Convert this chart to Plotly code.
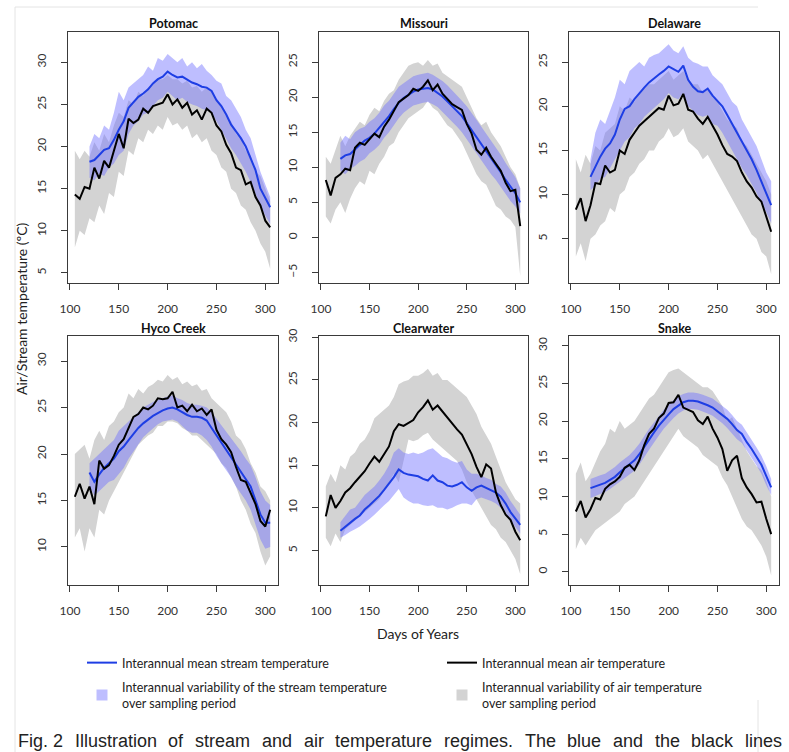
import plotly.graph_objects as go

# ---------------- data ----------------
AIR_DAYS = list(range(105, 306, 5))      # 41 days
STREAM_DAYS = list(range(120, 306, 5))   # 38 days
X_TICKS = [100, 150, 200, 250, 300]
PANEL_NAMES = ["Potomac", "Missouri", "Delaware", "Hyco Creek", "Clearwater", "Snake"]

POTOMAC_AIR = [14.3, 13.8, 15.2, 15.0, 17.5, 16.2, 18.3, 17.5, 19.5, 21.5,
               19.8, 23.3, 22.8, 23.2, 24.5, 24.0, 24.8, 25.0, 25.2, 26.2,
               25.0, 25.6, 24.6, 25.2, 23.8, 24.3, 23.2, 24.5, 24.0, 22.5,
               21.8, 20.2, 19.2, 17.5, 17.2, 15.5, 15.8, 14.0, 13.0, 11.2,
               10.4]
POTOMAC_AIR_HI = [19.5, 18.5, 19.5, 18.8, 20.5, 19.5, 21.5, 20.5, 22.5, 24.0,
                  23.5, 25.5, 25.0, 26.5, 26.0, 27.0, 27.5, 28.0, 28.0, 28.5,
                  28.0, 28.0, 27.5, 27.8, 27.0, 27.2, 26.5, 27.0, 26.5, 25.5,
                  25.0, 23.5, 23.0, 21.5, 21.0, 19.5, 19.0, 17.0, 16.5, 15.0,
                  13.5]
POTOMAC_AIR_LO = [8.0, 10.0, 9.5, 11.5, 11.0, 13.0, 12.0, 14.5, 14.0, 17.0,
                  16.5, 19.5, 19.0, 21.0, 20.5, 22.0, 21.5, 22.5, 22.0, 23.5,
                  22.5, 22.8, 22.0, 22.5, 21.0, 21.5, 20.5, 21.0, 19.5, 19.0,
                  17.5, 17.0, 15.0, 14.5, 13.0, 12.5, 11.0, 10.0, 8.5, 7.5,
                  5.5]
POTOMAC_STREAM = [18.2, 18.4, 19.0, 19.6, 19.8, 20.8, 22.0, 23.0, 24.6, 25.2,
                  25.9, 26.3, 26.8, 27.5, 28.0, 28.3, 28.9, 28.5, 28.2, 28.3,
                  28.0, 27.6, 27.4, 27.1, 27.0, 26.6, 25.5, 24.8, 23.8, 22.6,
                  21.8, 21.0, 20.0, 18.6, 17.2, 15.0, 13.8, 12.8]
POTOMAC_STREAM_HI = [20.0, 21.5, 21.0, 22.5, 22.0, 24.0, 26.5, 25.5, 27.0, 27.5,
                     28.0, 28.5, 29.5, 29.0, 30.5, 30.2, 31.0, 30.5, 30.0, 30.5,
                     29.5, 30.0, 29.3, 29.8, 29.0, 28.5, 27.8, 27.5, 26.0, 25.5,
                     24.5, 23.5, 22.0, 21.0, 19.0, 17.0, 15.5, 14.0]
POTOMAC_STREAM_LO = [16.3, 16.0, 16.8, 16.5, 17.5, 18.0, 19.0, 19.5, 21.5, 22.5,
                     23.0, 23.8, 24.0, 24.8, 25.5, 25.8, 26.5, 26.0, 25.5, 25.8,
                     25.3, 25.0, 24.8, 24.5, 24.3, 24.0, 23.0, 22.0, 21.0, 19.8,
                     19.0, 18.0, 17.0, 15.8, 14.5, 13.0, 11.8, 10.8]

MISSOURI_AIR = [8.2, 6.0, 8.5, 9.0, 9.8, 9.6, 12.8, 13.5, 13.2, 14.0,
                14.8, 14.3, 15.8, 16.8, 18.0, 19.3, 19.8, 20.3, 21.2, 20.9,
                21.5, 22.4, 21.0, 21.8, 20.5, 19.8, 19.0, 18.6, 18.2, 16.2,
                14.8, 12.5, 11.8, 12.8, 11.5, 10.5, 9.5, 7.8, 6.6, 6.8,
                1.6]
MISSOURI_AIR_HI = [11.5, 10.5, 12.5, 14.5, 13.0, 14.5, 15.5, 16.5, 16.0, 17.5,
                   18.5, 18.0, 19.5, 20.5, 21.0, 22.5, 23.5, 24.5, 24.8, 25.0,
                   24.5, 25.3, 24.5, 24.8, 23.5, 23.0, 22.5, 22.0, 21.5, 20.0,
                   18.5, 17.0, 16.0, 16.5, 15.0, 14.0, 13.0, 11.5, 10.0, 9.0,
                   7.0]
MISSOURI_AIR_LO = [3.0, 2.0, 4.0, 5.0, 3.5, 5.5, 7.0, 8.0, 7.5, 9.5,
                   9.0, 10.5, 11.5, 13.0, 13.5, 15.0, 16.0, 17.0, 17.5, 18.0,
                   18.5, 19.5, 18.5, 18.0, 17.0, 16.0, 15.5, 14.5, 13.5, 12.0,
                   10.5, 9.0, 8.0, 7.5, 6.0, 4.5, 4.0, 3.0, 2.5, 1.5,
                   -5.5]
MISSOURI_STREAM = [11.2, 11.7, 11.9, 12.6, 13.2, 13.8, 14.2, 14.8, 15.6, 16.4,
                   17.3, 18.3, 19.2, 19.9, 20.4, 20.8, 21.1, 21.2, 21.3, 21.1,
                   20.6, 20.1, 19.4, 18.7, 18.0, 17.3, 16.3, 15.3, 14.3, 13.3,
                   12.3, 11.4, 10.3, 9.3, 8.2, 7.2, 6.3, 5.0]
MISSOURI_STREAM_HI = [13.5, 14.5, 14.0, 15.0, 15.5, 15.8, 16.5, 17.0, 17.8, 18.8,
                      19.5, 20.5, 21.5, 22.0, 22.5, 23.0, 23.2, 23.3, 23.5, 23.2,
                      22.8, 22.3, 21.7, 21.0, 20.3, 19.5, 18.7, 17.8, 16.8, 15.8,
                      14.8, 13.8, 12.8, 11.8, 10.6, 9.6, 8.6, 7.0]
MISSOURI_STREAM_LO = [9.5, 9.0, 9.8, 10.2, 10.8, 11.2, 12.0, 12.5, 13.2, 14.2,
                      15.0, 16.0, 17.0, 17.8, 18.3, 18.8, 19.0, 19.2, 19.3, 19.0,
                      18.6, 18.0, 17.3, 16.5, 15.8, 15.0, 14.0, 13.0, 12.0, 11.0,
                      10.0, 9.0, 8.2, 7.2, 6.2, 5.2, 4.4, 3.5]

DELAWARE_AIR = [8.3, 9.6, 7.0, 8.8, 11.3, 11.2, 13.3, 12.5, 12.8, 15.0,
                14.6, 16.2, 17.0, 17.8, 18.3, 18.8, 19.3, 19.8, 19.6, 21.2,
                20.1, 20.3, 21.4, 19.6, 19.4, 18.6, 18.0, 18.8, 17.8, 16.8,
                15.6, 14.6, 14.3, 13.8, 12.5, 11.5, 10.8, 9.8, 9.2, 7.5,
                5.8]
DELAWARE_AIR_HI = [14.0, 12.5, 14.5, 13.5, 15.5, 15.0, 17.0, 17.5, 18.0, 20.0,
                   19.5, 21.0, 20.5, 21.5, 22.0, 22.5, 22.5, 23.0, 23.5, 24.0,
                   23.0, 23.5, 24.0, 23.0, 22.5, 22.5, 21.5, 22.0, 21.0, 20.5,
                   19.5, 18.5, 18.0, 17.5, 16.0, 15.5, 14.5, 13.5, 12.5, 11.5,
                   10.0]
DELAWARE_AIR_LO = [3.0, 4.5, 2.5, 5.0, 5.5, 6.5, 7.0, 8.5, 8.0, 10.0,
                   10.5, 12.0, 12.5, 13.5, 14.0, 15.0, 15.0, 16.0, 16.5, 17.5,
                   16.5, 16.8, 17.5, 16.0, 15.5, 15.0, 14.0, 14.5, 13.5, 12.5,
                   11.5, 10.5, 9.5, 8.5, 7.5, 6.5, 5.5, 5.0, 3.5, 3.0,
                   1.0]
DELAWARE_STREAM = [12.0, 13.2, 14.3, 15.2, 15.8, 16.8, 18.5, 19.7, 20.0, 20.8,
                   21.5, 22.1, 22.7, 23.2, 23.6, 24.0, 24.5, 24.2, 23.9, 24.6,
                   23.0, 22.2, 21.7, 21.6, 22.0, 21.2, 20.6, 20.0, 19.0, 18.0,
                   17.0, 16.0, 15.0, 14.0, 12.8, 11.5, 10.2, 8.8]
DELAWARE_STREAM_HI = [14.0, 17.0, 18.5, 18.0, 19.5, 21.0, 23.0, 22.5, 24.0, 24.5,
                      25.0, 24.5, 25.5, 25.8, 26.0, 26.5, 27.0, 26.3, 26.0, 26.8,
                      25.5, 25.0, 24.8, 24.5, 24.5, 23.5, 23.0, 22.5, 21.5, 20.5,
                      20.0, 18.5, 17.5, 16.5, 15.5, 14.0, 12.5, 11.5]
DELAWARE_STREAM_LO = [10.5, 11.0, 11.8, 12.0, 13.0, 14.0, 15.0, 16.0, 16.5, 17.5,
                      18.0, 18.8, 19.2, 19.8, 20.3, 20.8, 21.5, 21.0, 20.8, 21.5,
                      20.0, 19.5, 19.0, 18.8, 19.0, 18.0, 17.8, 17.0, 16.0, 15.0,
                      14.0, 13.0, 12.2, 11.2, 10.2, 9.0, 8.0, 6.8]

HYCO_AIR = [15.4, 16.8, 15.2, 16.5, 14.6, 19.3, 18.4, 18.8, 19.8, 21.0,
            21.6, 22.8, 24.0, 24.3, 25.0, 24.8, 25.2, 26.0, 25.9, 26.0,
            26.7, 25.0, 25.2, 24.6, 25.3, 24.6, 24.9, 24.2, 24.8, 22.6,
            21.6, 21.0, 20.2, 18.6, 17.2, 17.0, 15.8, 14.6, 12.8, 12.2,
            14.0]
HYCO_AIR_HI = [20.0, 20.5, 21.0, 19.5, 21.5, 22.5, 21.5, 23.0, 23.5, 24.5,
               25.0, 26.5, 26.0, 27.0, 26.5, 27.2, 27.5, 28.0, 27.8, 28.5,
               28.0, 28.3, 27.5, 27.8, 27.3, 27.5, 26.8, 27.0, 26.0, 25.5,
               25.0, 24.5, 23.5, 22.0, 21.5, 20.5, 19.0, 18.0, 16.5, 16.0,
               15.0]
HYCO_AIR_LO = [11.0, 12.0, 9.5, 12.0, 11.0, 14.0, 13.5, 15.0, 16.0, 17.0,
               18.0, 19.0, 20.0, 21.0, 21.5, 22.0, 22.3, 23.0, 23.0, 23.5,
               23.5, 23.3, 22.8, 22.5, 22.0, 22.0, 21.5, 21.0, 20.5, 20.0,
               19.0, 18.5, 17.5, 16.5, 15.0, 14.0, 12.5, 11.5, 9.5, 8.0,
               9.0]
HYCO_STREAM = [18.0, 17.0, 17.8, 18.5, 19.0, 19.5, 20.3, 20.8, 21.5, 22.2,
               22.8, 23.3, 23.7, 24.1, 24.4, 24.7, 24.9, 25.0, 24.8, 24.5,
               24.2, 24.0, 24.0, 23.9, 23.6, 22.8, 22.0, 21.2, 20.4, 19.6,
               18.8, 18.0, 17.2, 16.5, 15.0, 13.5, 12.6, 12.6]
HYCO_STREAM_HI = [19.0, 19.5, 20.0, 20.5, 21.0, 21.5, 22.5, 23.0, 23.5, 24.0,
                  24.5, 25.0, 25.3, 25.6, 25.8, 26.0, 26.2, 26.3, 26.0, 25.8,
                  25.5, 25.3, 25.3, 25.2, 25.0, 24.5, 23.8, 23.2, 22.5, 21.8,
                  21.0, 20.3, 19.5, 18.8, 17.5, 16.0, 15.0, 14.5]
HYCO_STREAM_LO = [16.5, 15.5, 16.0, 16.5, 17.0, 17.2, 17.8, 18.5, 19.5, 20.3,
                  21.0, 21.8, 22.3, 22.8, 23.2, 23.5, 23.6, 23.7, 23.5, 23.0,
                  22.5, 22.3, 22.3, 22.0, 21.5, 20.8, 19.8, 19.0, 18.2, 17.5,
                  16.5, 15.8, 15.0, 14.0, 12.5, 10.8, 9.8, 10.0]

CLEARWATER_AIR = [9.0, 11.5, 10.0, 10.8, 11.8, 12.3, 13.0, 13.6, 14.3, 15.2,
                  16.0, 15.4, 16.3, 17.2, 19.0, 19.8, 19.6, 20.0, 20.3, 21.2,
                  21.8, 22.6, 21.5, 22.0, 21.3, 20.6, 19.8, 19.2, 18.6, 17.5,
                  16.3, 14.8, 13.6, 15.1, 14.6, 11.8, 10.3, 9.2, 8.6, 7.2,
                  6.2]
CLEARWATER_AIR_HI = [12.5, 14.0, 13.0, 15.0, 14.5, 16.0, 16.5, 17.5, 18.0, 19.0,
                     20.5, 21.0, 21.5, 22.0, 23.0, 24.5, 24.8, 25.0, 25.5, 25.5,
                     25.8, 26.3, 25.5, 25.8, 25.0, 25.0, 24.5, 24.0, 23.5, 23.0,
                     22.0, 21.0, 19.5, 18.5, 17.5, 16.0, 14.5, 13.0, 12.0, 11.0,
                     10.5]
CLEARWATER_AIR_LO = [6.5, 5.5, 7.0, 6.0, 7.5, 8.0, 8.5, 9.0, 9.5, 10.0,
                     10.5, 11.0, 12.0, 13.0, 14.0, 13.0, 15.5, 18.0, 17.8, 18.0,
                     18.5, 18.8, 18.0, 17.5, 17.0, 16.5, 16.0, 15.5, 14.5, 13.0,
                     12.0, 11.0, 10.0, 9.0, 8.0, 7.5, 6.5, 6.0, 5.0, 4.0,
                     2.2]
CLEARWATER_STREAM = [7.3, 7.8, 8.3, 8.7, 9.1, 9.8, 10.3, 10.8, 11.4, 12.1,
                     12.8, 13.6, 14.5, 14.1, 13.9, 13.8, 13.7, 13.4, 13.2, 13.8,
                     13.2, 13.0, 12.6, 12.5, 12.7, 13.0, 12.4, 12.0, 12.4, 12.6,
                     12.3, 12.1, 11.8, 11.3, 10.5, 9.5, 8.7, 8.0]
CLEARWATER_STREAM_HI = [8.3, 9.0, 9.8, 10.0, 10.8, 11.5, 12.0, 12.5, 13.2, 14.0,
                        15.0, 16.5, 17.0, 16.5, 16.3, 16.5, 16.3, 16.5, 16.8, 17.0,
                        16.5, 16.0, 15.8, 15.5, 15.3, 15.5, 14.5, 14.0, 14.0, 13.8,
                        13.5, 13.3, 12.8, 12.5, 11.8, 10.8, 10.0, 9.2]
CLEARWATER_STREAM_LO = [6.5, 6.8, 7.2, 7.5, 7.8, 8.2, 8.7, 9.2, 9.7, 10.3,
                        10.8, 11.5, 12.2, 11.2, 10.8, 10.5, 10.5, 10.3, 10.2, 10.3,
                        10.0, 10.0, 9.8, 10.0, 10.3, 10.5, 10.5, 10.3, 11.0, 11.2,
                        11.0, 10.8, 10.5, 10.0, 9.5, 8.5, 7.8, 7.0]

SNAKE_AIR = [8.0, 9.4, 7.2, 8.3, 9.8, 9.6, 11.0, 11.6, 12.0, 12.6,
             13.8, 14.2, 13.5, 14.8, 16.8, 18.3, 19.0, 20.4, 21.0, 22.4,
             22.5, 23.5, 21.8, 21.5, 21.2, 20.1, 19.6, 20.6, 19.0, 17.8,
             16.3, 13.4, 14.8, 15.4, 12.4, 11.2, 10.3, 9.2, 9.3, 7.0,
             5.0]
SNAKE_AIR_HI = [13.0, 14.5, 12.0, 13.0, 14.5, 16.0, 17.0, 19.0, 18.5, 20.0,
                19.0, 19.5, 20.0, 21.0, 22.0, 23.0, 23.5, 24.5, 25.5, 26.5,
                26.8, 27.0, 26.5, 26.0, 25.5, 25.0, 24.5, 24.5, 24.0, 23.0,
                22.0, 20.0, 20.5, 19.0, 17.5, 16.0, 15.0, 14.0, 13.5, 12.0,
                10.0]
SNAKE_AIR_LO = [3.0, 4.5, 3.5, 4.5, 5.5, 6.0, 6.5, 7.0, 7.5, 8.0,
                9.0, 9.5, 10.0, 11.0, 12.0, 13.0, 14.0, 15.0, 16.0, 17.0,
                18.0, 19.0, 18.0, 17.5, 17.0, 16.5, 15.5, 15.0, 14.5, 14.0,
                12.5, 11.5, 10.0, 8.5, 7.0, 6.0, 5.5, 4.5, 3.5, 2.0,
                -0.5]
SNAKE_STREAM = [11.1, 11.3, 11.5, 11.8, 12.2, 12.6, 13.2, 13.7, 14.2, 14.8,
                15.6, 16.6, 17.6, 18.5, 19.4, 20.2, 20.9, 21.6, 22.1, 22.5,
                22.7, 22.7, 22.6, 22.4, 22.1, 21.8, 21.3, 20.8, 20.3, 19.6,
                18.8, 18.3, 17.2, 16.3, 15.3, 14.2, 12.7, 11.2]
SNAKE_STREAM_HI = [12.3, 12.6, 12.8, 13.0, 13.4, 13.9, 14.5, 15.0, 15.5, 16.2,
                   17.0, 18.0, 19.0, 19.8, 20.7, 21.5, 22.2, 22.8, 23.3, 23.6,
                   23.8, 23.8, 23.7, 23.5, 23.3, 23.0, 22.5, 22.0, 21.5, 20.8,
                   20.0, 19.5, 18.5, 17.6, 16.5, 15.4, 14.0, 12.3]
SNAKE_STREAM_LO = [9.8, 10.0, 10.3, 10.6, 11.0, 11.4, 12.0, 12.4, 12.9, 13.4,
                   14.2, 15.2, 16.2, 17.2, 18.1, 19.0, 19.7, 20.4, 21.0, 21.4,
                   21.6, 21.6, 21.5, 21.3, 21.0, 20.7, 20.2, 19.7, 19.1, 18.4,
                   17.6, 17.1, 16.0, 15.1, 14.1, 13.0, 11.5, 10.2]

Y_TICKS = [
    [5, 10, 15, 20, 25, 30],
    [-5, 0, 5, 10, 15, 20, 25],
    [5, 10, 15, 20, 25],
    [10, 15, 20, 25, 30],
    [5, 10, 15, 20, 25, 30],
    [0, 5, 10, 15, 20, 25, 30],
]

LEGEND_LABELS = [
    "Interannual mean stream temperature",
    "Interannual mean air temperature",
    "Interannual variability of the stream temperature<br>over sampling period",
    "Interannual variability of air temperature<br>over sampling period",
]

CAPTION_WORDS = ["Fig.", "2", "Illustration", "of", "stream", "and", "air", "temperature",
                 "regimes.", "The", "blue", "and", "the", "black", "lines"]

PANELS = [
    (POTOMAC_AIR, POTOMAC_AIR_LO, POTOMAC_AIR_HI, POTOMAC_STREAM, POTOMAC_STREAM_LO, POTOMAC_STREAM_HI),
    (MISSOURI_AIR, MISSOURI_AIR_LO, MISSOURI_AIR_HI, MISSOURI_STREAM, MISSOURI_STREAM_LO, MISSOURI_STREAM_HI),
    (DELAWARE_AIR, DELAWARE_AIR_LO, DELAWARE_AIR_HI, DELAWARE_STREAM, DELAWARE_STREAM_LO, DELAWARE_STREAM_HI),
    (HYCO_AIR, HYCO_AIR_LO, HYCO_AIR_HI, HYCO_STREAM, HYCO_STREAM_LO, HYCO_STREAM_HI),
    (CLEARWATER_AIR, CLEARWATER_AIR_LO, CLEARWATER_AIR_HI, CLEARWATER_STREAM, CLEARWATER_STREAM_LO, CLEARWATER_STREAM_HI),
    (SNAKE_AIR, SNAKE_AIR_LO, SNAKE_AIR_HI, SNAKE_STREAM, SNAKE_STREAM_LO, SNAKE_STREAM_HI),
]

# ---------------- layout / style ----------------
W, H = 789, 752
COLS = [(68, 278), (319, 528), (569, 779)]
ROWS = [(32, 283), (336, 585)]
Y_RANGES = [(3.8, 33.6), (-6.5, 29.3), (0.0, 28.4), (5.9, 32.7), (0.95, 30.15), (-1.76, 31.3)]
X_RANGE = (98, 313)

BLUE = "rgb(30,62,228)"
BAND_BLUE = "rgba(110,110,255,0.45)"
BAND_GREY = "rgb(211,211,211)"
AXIS_COLOR = "#3a3a3a"
FONT = "Lato, 'Open Sans', sans-serif"
CAPTION_FONT = "'Liberation Sans', Arial, sans-serif"


def px(x):
    return x / W


def py(y):
    return 1 - y / H


fig = go.Figure()

for i, (air, air_lo, air_hi, st, st_lo, st_hi) in enumerate(PANELS):
    ax = "" if i == 0 else str(i + 1)
    xa, ya = "x" + ax, "y" + ax
    # air variability band
    fig.add_trace(go.Scatter(
        x=AIR_DAYS + AIR_DAYS[::-1], y=air_hi + air_lo[::-1],
        fill="toself", fillcolor=BAND_GREY, mode="lines", line=dict(width=0),
        hoverinfo="skip", showlegend=False, xaxis=xa, yaxis=ya))
    # stream variability band
    fig.add_trace(go.Scatter(
        x=STREAM_DAYS + STREAM_DAYS[::-1], y=st_hi + st_lo[::-1],
        fill="toself", fillcolor=BAND_BLUE, mode="lines", line=dict(width=0),
        hoverinfo="skip", showlegend=False, xaxis=xa, yaxis=ya))
    # mean stream temperature
    fig.add_trace(go.Scatter(
        x=STREAM_DAYS, y=st, mode="lines", line=dict(color=BLUE, width=2),
        name=LEGEND_LABELS[0], legend="legend", legendgroup="a", showlegend=(i == 0),
        xaxis=xa, yaxis=ya))
    # mean air temperature
    fig.add_trace(go.Scatter(
        x=AIR_DAYS, y=air, mode="lines", line=dict(color="black", width=2),
        name=LEGEND_LABELS[1], legend="legend2", legendgroup="c", showlegend=(i == 0),
        xaxis=xa, yaxis=ya))

    r, c = divmod(i, 3)
    x0, x1 = COLS[c]
    y0, y1 = ROWS[r]
    common = dict(showline=True, mirror=True, linecolor=AXIS_COLOR, linewidth=1,
                  ticks="outside", ticklen=6, tickcolor=AXIS_COLOR, tickwidth=1,
                  showgrid=False, zeroline=False,
                  tickfont=dict(family=FONT, size=12, color="#333"))
    fig.layout["xaxis" + ax] = dict(
        domain=[px(x0), px(x1)], range=list(X_RANGE), anchor=ya,
        tickvals=X_TICKS, ticklabelstandoff=9, **common)
    fig.layout["yaxis" + ax] = dict(
        domain=[py(y1), py(y0)], range=list(Y_RANGES[i]), anchor=xa,
        tickvals=Y_TICKS[i], tickangle=-90, ticklabelstandoff=10, **common)
    fig.add_annotation(
        text="<b>%s</b>" % PANEL_NAMES[i], x=px((x0 + x1) / 2), y=py(y0 - 8),
        xref="paper", yref="paper", showarrow=False, xanchor="center", yanchor="middle",
        font=dict(family=FONT, size=12.5, color="#111"))

# legend-only entries for the variability bands
fig.add_trace(go.Scatter(
    x=[None], y=[None], mode="markers",
    marker=dict(symbol="square", size=11, color=BAND_BLUE),
    name=LEGEND_LABELS[2], legend="legend", legendgroup="b"))
fig.add_trace(go.Scatter(
    x=[None], y=[None], mode="markers",
    marker=dict(symbol="square", size=11, color=BAND_GREY),
    name=LEGEND_LABELS[3], legend="legend2", legendgroup="d"))

# shared axis titles
fig.add_annotation(text="Air/Stream temperature (ºC)", x=px(22), y=py(309),
                   xref="paper", yref="paper", showarrow=False, textangle=-90,
                   xanchor="center", yanchor="middle",
                   font=dict(family=FONT, size=14, color="#222"))
fig.add_annotation(text="Days of Years", x=px(418), y=py(633),
                   xref="paper", yref="paper", showarrow=False,
                   xanchor="center", yanchor="middle",
                   font=dict(family=FONT, size=14, color="#222"))

# caption (justified like the reference: one annotation per word)
CAPTION_X = [16, 51, 72.7, 166.4, 193.1, 259.8, 301.5, 333.2, 441.9, 522.6,
             565.3, 611, 652.7, 689.4, 743.1]
for word, cx in zip(CAPTION_WORDS, CAPTION_X):
    fig.add_annotation(text=word, x=px(cx), y=py(741), xref="paper", yref="paper",
                       showarrow=False, xanchor="left", yanchor="middle",
                       font=dict(family=CAPTION_FONT, size=18, color="#222"))

# faint page frame
for (xa0, ya0, xa1, ya1) in [(15, 7, 758, 7), (15, 7, 15, 752), (758, 700, 758, 752)]:
    fig.add_shape(type="line", xref="paper", yref="paper",
                  x0=px(xa0), y0=py(ya0), x1=px(xa1), y1=py(ya1),
                  line=dict(color="#e4e4e4", width=1))

legend_common = dict(orientation="v", xanchor="left", yanchor="top", itemwidth=30,
                     font=dict(family=FONT, size=12.5, color="#222"),
                     bgcolor="rgba(0,0,0,0)", tracegroupgap=5, valign="middle",
                     borderwidth=0)
fig.update_layout(
    width=W, height=H, margin=dict(l=0, r=0, t=0, b=0, autoexpand=False),
    paper_bgcolor="white", plot_bgcolor="white",
    legend=dict(x=px(82), y=py(648), **legend_common),
    legend2=dict(x=px(442), y=py(648), **legend_common),
)

fig.write_html("out.html")
